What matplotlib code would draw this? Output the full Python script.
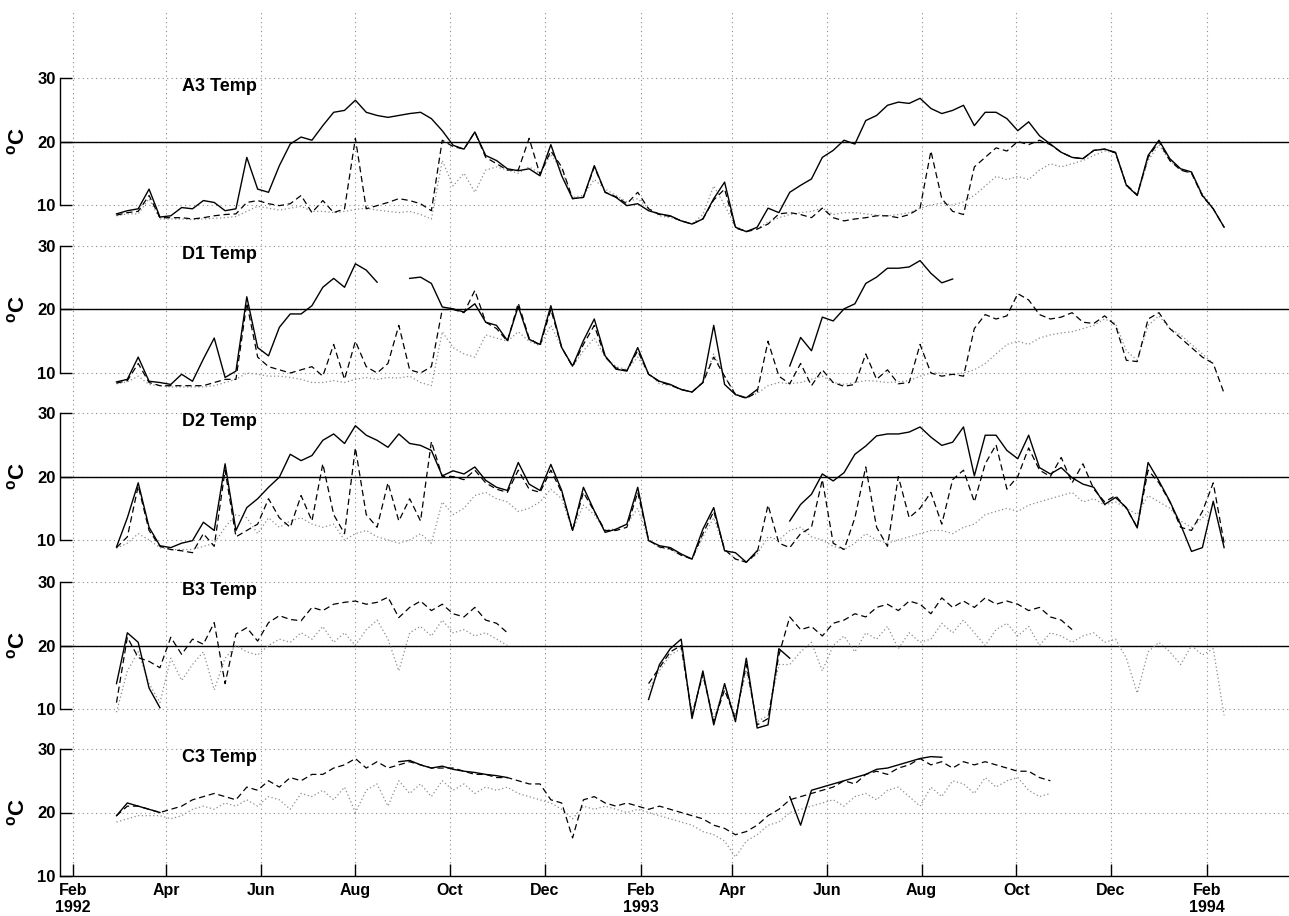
import numpy as np
import pandas as pd
import matplotlib
matplotlib.use("Agg")
import matplotlib.pyplot as plt

plt.rcParams["font.family"] = "Liberation Sans"
plt.rcParams["mathtext.fontset"] = "custom"
plt.rcParams["mathtext.rm"] = "Liberation Sans"
plt.rcParams["mathtext.bf"] = "Liberation Sans:bold"

nan = np.nan

# weekly samples, 29 Feb 1992 .. 12 Feb 1994 (103 values per series)
dates = pd.date_range("1992-02-29", periods=103, freq="7D")

# ── A3 ────────────────────────────────────────────────────────────────
a3_solid = [8.6, 9.1, 9.4, 12.5, 8.1, 8.3, 9.6, 9.4, 10.7, 10.4,
            9.1, 9.4, 17.5, 12.5, 12.0, 16.2, 19.6, 20.7, 20.2, 22.5,
            24.6, 24.9, 26.5, 24.6, 24.1, 23.8, 24.1, 24.4, 24.6, 23.6,
            21.7, 19.4, 18.8, 21.5, 17.8, 17.0, 15.7, 15.4, 15.7, 14.6,
            19.5, 14.6, 11.0, 11.2, 16.2, 12.0, 11.2, 9.9, 10.2, 9.1,
            8.6, 8.3, 7.5, 7.0, 7.8, 11.0, 13.6, 6.5, 5.8, 6.5,
            9.5, 8.8, 12.0, 13.1, 14.1, 17.5, 18.6, 20.2, 19.6, 23.3,
            24.1, 25.7, 26.2, 26.0, 26.8, 25.2, 24.4, 24.9, 25.7, 22.5,
            24.6, 24.6, 23.6, 21.7, 23.1, 20.9, 19.6, 18.3, 17.5, 17.3,
            18.6, 18.8, 18.3, 13.1, 11.5, 17.8, 20.2, 17.3, 15.7, 15.2,
            11.5, 9.4, 6.5]
a3_dash = [8.4, 8.8, 9.0, 11.5, 8.0, 8.0, 8.0, 7.8, 8.0, 8.3,
           8.5, 8.6, 10.4, 10.7, 10.2, 9.9, 10.2, 11.5, 8.8, 10.7,
           8.8, 9.4, 20.5, 9.4, 9.9, 10.4, 11.0, 10.7, 10.2, 9.1,
           20.2, 19.2, 18.8, 21.5, 17.5, 16.5, 15.5, 15.5, 20.5, 14.8,
           18.5, 16.0, 11.0, 11.2, 16.0, 12.0, 11.3, 10.2, 12.0, 9.4,
           8.5, 8.2, 7.5, 7.0, 7.8, 10.8, 12.5, 6.4, 5.8, 6.2,
           7.0, 8.6, 8.8, 8.5, 8.0, 9.5, 8.0, 7.5, 7.8, 8.0,
           8.3, 8.3, 8.0, 8.5, 9.5, 18.5, 11.0, 9.0, 8.5, 16.0,
           17.5, 19.0, 18.5, 20.0, 19.5, 20.2, 19.5, 18.3, 17.5, 17.3,
           18.6, 18.8, 18.2, 13.2, 11.6, 17.5, 20.0, 17.0, 15.5, 15.0,
           11.4, 9.4, 6.5]
a3_dot = [8.3, 8.6, 8.6, 11.0, 7.8, 7.8, 7.8, 7.7, 7.8, 7.9,
          8.0, 8.2, 9.0, 9.8, 9.5, 9.2, 9.5, 9.8, 9.0, 9.0,
          8.8, 9.0, 9.3, 9.5, 9.2, 9.0, 8.8, 9.0, 8.5, 7.8,
          17.0, 13.0, 15.0, 12.0, 15.5, 16.0, 15.5, 15.0, 16.0, 15.0,
          18.0, 15.5, 11.2, 11.5, 14.0, 12.5, 11.5, 10.5, 11.0, 9.5,
          8.3, 8.0, 7.6, 7.0, 8.5, 13.0, 10.0, 6.6, 5.9, 6.3,
          7.3, 8.0, 8.5, 8.8, 9.0, 9.5, 8.5, 8.8, 8.8, 8.6,
          8.4, 8.3, 8.5, 8.8, 9.5, 10.0, 10.3, 10.0, 10.5, 11.5,
          13.0, 14.5, 14.0, 14.5, 14.0, 15.5, 16.5, 16.0, 16.5, 17.0,
          17.8, 18.5, 18.2, 13.0, 11.5, 17.0, 19.5, 17.0, 15.5, 15.0,
          11.8, 9.6, nan]

# ── D1 ────────────────────────────────────────────────────────────────
d1_solid = [8.6, 9.0, 12.5, 8.7, 8.5, 8.2, 9.8, 8.7, 12.2, 15.5,
            9.3, 10.3, 22.0, 14.0, 12.7, 17.2, 19.3, 19.3, 20.6, 23.5,
            24.9, 23.5, 27.2, 26.2, 24.3, nan, nan, 24.9, 25.1, 24.1,
            20.4, 20.1, 19.6, 20.9, 18.0, 17.5, 15.1, 20.5, 15.3, 14.5,
            20.6, 14.0, 11.1, 15.1, 18.5, 12.7, 10.6, 10.3, 14.0, 9.8,
            8.7, 8.2, 7.4, 7.0, 8.5, 17.5, 8.2, 6.6, 6.1, 7.4,
            nan, nan, 11.1, 15.6, 13.5, 18.8, 18.2, 20.1, 20.9, 24.1,
            25.1, 26.5, 26.5, 26.7, 27.7, 25.7, 24.2, 24.8] + [nan] * 25
d1_dash = [8.4, 8.8, 11.5, 8.5, 8.0, 8.0, 8.0, 8.0, 8.0, 8.5,
           9.0, 9.0, 21.0, 12.5, 11.0, 10.5, 10.0, 10.5, 11.0, 9.5,
           14.5, 9.0, 15.0, 11.0, 10.0, 11.5, 17.5, 10.5, 10.0, 11.0,
           20.0, 20.0, 19.5, 23.0, 18.0, 17.0, 15.0, 21.0, 15.5, 14.3,
           20.0, 14.0, 11.0, 14.5, 17.5, 12.5, 10.8, 10.4, 13.5, 9.8,
           8.6, 8.1, 7.4, 7.0, 8.5, 12.5, 9.5, 6.6, 6.0, 7.0,
           15.0, 9.5, 8.3, 11.5, 8.0, 10.5, 8.5, 7.9, 8.2, 13.0,
           9.0, 10.5, 8.3, 8.5, 14.5, 10.0, 9.5, 9.8, 9.5, 17.0,
           19.2, 18.5, 19.0, 22.5, 21.5, 19.2, 18.5, 18.8, 19.5, 18.0,
           17.8, 19.0, 17.5, 12.0, 11.8, 18.5, 19.5, 17.0, 15.5, 14.0,
           12.5, 11.5, 6.8]
d1_dot = [8.3, 8.6, 9.5, 8.2, 8.0, 7.8, 7.8, 7.8, 7.8, 8.0,
          8.5, 9.0, 10.0, 9.8, 9.5, 9.5, 9.3, 9.0, 8.5, 8.5,
          8.8, 8.5, 9.0, 9.3, 9.0, 9.3, 9.2, 9.5, 8.5, 8.0,
          16.5, 14.0, 13.0, 12.5, 16.0, 15.5, 15.0, 16.5, 15.0, 14.3,
          17.5, 14.0, 11.0, 13.5, 15.5, 12.5, 11.0, 10.5, 12.5, 10.0,
          8.3, 8.0, 7.5, 7.0, 8.5, 13.0, 9.5, 6.7, 6.1, 6.8,
          8.0, 8.5, 8.3, 8.5, 9.0, 9.5, 8.5, 8.2, 8.5, 8.8,
          8.7, 8.5, 8.6, 8.8, 9.5, 10.0, 10.0, 9.8, 10.0, 10.5,
          11.5, 13.0, 14.5, 15.0, 14.5, 15.5, 16.0, 16.3, 16.5, 17.0,
          17.5, 18.5, 17.8, 13.5, 12.0, 17.5, 19.0, 17.0, 16.0, 14.5,
          13.0, 11.5, nan]

# ── D2 ────────────────────────────────────────────────────────────────
d2_solid = [8.9, 13.5, 19.0, 12.0, 9.1, 8.8, 9.5, 9.9, 12.8, 11.5,
            22.0, 11.5, 15.1, 16.5, 18.3, 19.9, 23.5, 22.5, 23.3, 25.7,
            26.7, 25.2, 28.0, 26.5, 25.7, 24.6, 26.7, 25.2, 24.9, 24.1,
            20.1, 20.9, 20.4, 21.5, 19.4, 18.3, 17.8, 22.2, 18.8, 17.8,
            21.9, 17.8, 11.5, 18.3, 14.6, 11.2, 11.7, 12.5, 18.3, 9.9,
            9.1, 8.8, 7.8, 7.0, 11.7, 15.1, 8.3, 8.0, 6.5, 8.3,
            nan, nan, 13.0, 15.6, 17.2, 20.4, 19.3, 20.6, 23.5, 24.8,
            26.4, 26.7, 26.7, 27.0, 27.8, 26.2, 24.9, 25.4, 27.8, 20.1,
            26.5, 26.5, 24.1, 22.8, 26.5, 21.4, 20.4, 21.4, 19.8, 18.8,
            18.3, 15.6, 16.7, 15.1, 11.9, 22.2, 19.3, 16.1, 12.4, 8.2,
            8.8, 16.1, 8.8]
d2_dash = [8.8, 10.5, 18.5, 11.5, 9.0, 8.5, 8.3, 8.0, 11.0, 9.0,
           21.0, 10.5, 11.5, 12.5, 16.5, 13.5, 12.0, 17.0, 13.0, 22.0,
           14.0, 11.0, 24.5, 14.0, 12.0, 19.0, 13.0, 16.5, 13.0, 25.5,
           20.0, 20.0, 19.5, 21.0, 19.0, 18.0, 17.5, 21.0, 18.0, 17.5,
           21.0, 17.5, 11.5, 17.5, 14.5, 11.5, 11.5, 12.0, 17.5, 10.0,
           8.9, 8.6, 7.6, 7.0, 11.0, 14.5, 8.5, 7.0, 6.5, 8.0,
           15.5, 9.5, 8.8, 11.0, 12.0, 19.5, 9.5, 8.5, 13.5, 21.5,
           12.0, 9.0, 20.0, 13.5, 15.0, 17.5, 12.5, 19.5, 21.0, 16.0,
           22.0, 25.0, 18.0, 20.0, 24.5, 21.0, 20.0, 23.0, 19.0, 22.0,
           18.0, 16.0, 17.0, 15.0, 12.0, 21.0, 19.0, 16.0, 12.0, 11.5,
           14.5, 19.0, 9.5]
d2_dot = [8.7, 9.5, 11.0, 10.0, 8.8, 8.5, 8.5, 8.5, 9.0, 9.5,
          12.0, 14.0, 13.5, 11.0, 13.5, 12.0, 13.0, 13.5, 12.5, 12.0,
          12.5, 10.0, 11.0, 11.5, 10.5, 10.0, 9.5, 10.0, 11.0, 9.5,
          16.0, 14.0, 15.0, 17.0, 17.5, 16.5, 16.0, 14.5, 15.0, 16.0,
          18.0, 16.5, 11.5, 15.5, 14.0, 11.5, 11.8, 12.5, 15.0, 10.0,
          8.8, 8.5, 7.6, 7.0, 10.5, 13.5, 8.5, 7.0, 6.5, 7.8,
          10.5, 10.0, 11.5, 12.0, 10.5, 10.0, 9.0, 8.5, 9.5, 11.0,
          10.0, 9.5, 10.0, 10.5, 11.0, 11.5, 11.5, 11.0, 12.0, 12.5,
          14.0, 14.5, 15.0, 14.5, 15.5, 16.0, 16.5, 17.0, 17.5, 16.0,
          16.5, 15.5, 16.0, 15.0, 14.0, 17.0, 16.0, 15.0, 13.0, 12.0,
          13.5, 15.0, nan]

# ── B3 ────────────────────────────────────────────────────────────────
b3_solid = ([14.0, 22.0, 20.5, 13.3, 10.2] + [nan] * 44 +
            [11.5, 17.0, 19.5, 21.0, 8.5, 16.0, 7.5, 14.0, 8.0, 18.0,
             7.0, 7.5, 19.5, 18.0] + [nan] * 40)
b3_dash = ([11.0, 21.3, 18.1, 17.5, 16.5, 21.3, 18.6, 21.0, 20.2, 23.6,
            14.0, 21.8, 22.8, 20.7, 23.6, 24.7, 24.1, 23.9, 26.0, 25.5,
            26.5, 26.8, 27.0, 26.5, 26.8, 27.6, 24.4, 26.0, 27.0, 25.5,
            26.5, 25.0, 24.5, 26.0, 24.0, 23.5, 22.0] + [nan] * 12 +
           [14.0, 16.5, 19.0, 20.0, 9.0, 15.5, 8.0, 13.0, 8.5, 17.0,
            7.5, 8.5, 18.5,
            24.5, 22.5, 23.0, 21.5, 23.5, 24.0, 25.0, 24.5, 26.0, 26.5,
            25.5, 27.0, 26.5, 25.0, 27.5, 26.0, 27.0, 26.0, 27.5, 26.5,
            27.0, 26.5, 25.5, 26.0, 24.5, 24.0, 22.5] + [nan] * 14)
b3_dot = ([9.5, 16.0, 19.0, 14.0, 11.0, 18.0, 14.5, 17.0, 19.0, 13.0,
           18.0, 20.0, 19.0, 18.5, 20.0, 21.0, 20.5, 22.0, 21.0, 23.0,
           20.5, 22.0, 20.0, 22.5, 24.0, 21.0, 16.0, 22.0, 23.0, 21.5,
           24.0, 22.0, 22.5, 21.5, 22.0, 21.0, 20.0] + [nan] * 12 +
          [13.0, 16.0, 18.5, 19.5, 9.5, 15.0, 8.5, 13.5, 9.0, 16.0,
           8.0, 9.0, 17.0,
           17.0, 19.0, 20.5, 16.0, 20.0, 21.5, 19.0, 22.0, 21.0, 23.0,
           19.5, 22.0, 20.5, 21.0, 23.5, 22.0, 24.0, 22.0, 20.0, 22.5,
           23.5, 21.5, 23.0, 20.0, 22.0, 21.5, 20.5, 21.5, 22.0, 20.5,
           21.0, 18.0, 12.5, 19.0, 20.5, 19.0, 17.0, 20.0, 18.5, 19.5,
           9.0])

# ── C3 ────────────────────────────────────────────────────────────────
c3_solid = ([19.5, 21.5, 21.0, 20.5, 20.0] + [nan] * 21 +
            [28.0, 28.2, 27.5, 27.0, 27.3, 26.8, 26.5, 26.3, 26.0, 25.8,
             25.5] + [nan] * 25 +
            [22.5, 18.0, 23.5, 24.0, 24.5, 25.0, 25.5, 26.0, 26.8, 27.0,
             27.5, 28.0, 28.5, 28.8, 28.7] + [nan] * 26)
c3_dash = [19.5, 21.0, 21.0, 20.5, 20.0, 20.5, 21.0, 22.0, 22.5, 23.0,
           22.5, 22.0, 24.0, 23.5, 25.0, 24.0, 25.5, 25.0, 26.0, 26.0,
           27.0, 27.5, 28.5, 27.0, 28.0, 27.0, 27.5, 28.0, 27.5, 27.0,
           27.0, 27.0, 26.5, 26.0, 26.0, 25.5, 25.5, 25.0, 24.5, 24.5,
           22.0, 21.5, 16.0, 22.0, 22.5, 21.5, 21.0, 21.5, 21.0, 20.5,
           21.0, 20.5, 20.0, 19.5, 19.0, 18.0, 17.5, 16.5, 17.0, 18.0,
           19.5, 20.5, 22.0, 22.5, 23.0, 23.5, 24.0, 25.0, 24.5, 26.0,
           26.5, 26.0, 27.0, 27.5, 28.5, 27.5, 28.0, 27.0, 28.0, 27.5,
           28.0, 27.5, 27.0, 26.5, 26.5, 25.5, 25.0] + [nan] * 16
c3_dot = [18.5, 19.0, 19.5, 19.5, 19.5, 19.0, 19.5, 20.5, 21.0, 20.5,
          21.5, 21.0, 22.0, 21.0, 22.5, 22.0, 20.5, 23.0, 22.5, 23.5,
          22.0, 24.0, 20.0, 23.5, 24.5, 21.0, 25.0, 23.0, 24.5, 22.5,
          25.0, 23.5, 24.5, 23.0, 24.0, 23.5, 24.0, 23.0, 22.5, 22.0,
          21.5, 20.5, 19.0, 21.0, 20.5, 21.0, 20.5, 20.0, 20.5, 20.0,
          19.5, 19.0, 18.5, 18.0, 17.0, 16.5, 15.5, 13.0, 15.5, 16.5,
          18.0, 18.5, 20.0, 20.5, 21.0, 21.5, 22.0, 21.0, 22.5, 23.0,
          22.0, 23.5, 24.0, 22.5, 21.0, 24.0, 22.5, 25.0, 24.5, 23.0,
          25.5, 24.0, 25.0, 25.5, 23.5, 22.5, 23.0] + [nan] * 16

panel_names = ["A3 Temp", "D1 Temp", "D2 Temp", "B3 Temp", "C3 Temp"]
panel_series = [
    (a3_solid, a3_dash, a3_dot),
    (d1_solid, d1_dash, d1_dot),
    (d2_solid, d2_dash, d2_dot),
    (b3_solid, b3_dash, b3_dot),
    (c3_solid, c3_dash, c3_dot),
]

month_ticks = pd.to_datetime([
    "1992-02-01", "1992-04-01", "1992-06-01", "1992-08-01", "1992-10-01",
    "1992-12-01", "1993-02-01", "1993-04-01", "1993-06-01", "1993-08-01",
    "1993-10-01", "1993-12-01", "1994-02-01"])
month_labels = ["Feb\n1992", "Apr", "Jun", "Aug", "Oct", "Dec",
                "Feb\n1993", "Apr", "Jun", "Aug", "Oct", "Dec", "Feb\n1994"]

# ── Layout (pixel based) ──────────────────────────────────────────────
W, H = 1289, 916
X_LEFT = 60                                  # y-axis spine
Y_TOP, Y_BOTTOM = 10, 876                    # extent of the vertical grid
PANEL_30 = [78, 246, 413, 582, 749]          # pixel row of the 30 degC level
PX_PER_DEG = 6.35
xlim = (pd.Timestamp("1992-01-23 14:00"), pd.Timestamp("1994-03-25 20:00"))

GRID_KW = dict(color="0.55", linewidth=0.8, linestyle=(0, (1, 3)))


def frac_box(top_px, bottom_px):
    return [X_LEFT / W, (H - bottom_px) / H, (W - X_LEFT) / W,
            (bottom_px - top_px) / H]


fig = plt.figure(figsize=(W / 100, H / 100), dpi=100)

# shared time axis: month grid, bottom spine and date labels
bg = fig.add_axes(frac_box(Y_TOP, Y_BOTTOM))
bg.patch.set_visible(False)
bg.set_xlim(*xlim)
bg.set_ylim(0, 1)
bg.set_yticks([])
for side in ("left", "top", "right"):
    bg.spines[side].set_visible(False)
bg.spines["bottom"].set_linewidth(1.0)
bg.set_xticks(month_ticks)
bg.set_xticklabels(month_labels, fontsize=11.5, fontweight="bold")
bg.tick_params(axis="x", direction="in", length=8.5, width=1.0, pad=5)
bg.grid(axis="x", **GRID_KW)

for i, (name, (solid, dash, dot)) in enumerate(zip(panel_names, panel_series)):
    last = i == len(panel_names) - 1
    lo, hi = (10, 31.5) if last else (3, 31.5)
    y30 = PANEL_30[i]
    ax = fig.add_axes(frac_box(y30 - (hi - 30) * PX_PER_DEG,
                               y30 + (30 - lo) * PX_PER_DEG))
    ax.patch.set_visible(False)
    ax.set_xlim(*xlim)
    ax.set_ylim(lo, hi)
    ax.set_xticks([])
    for side in ("top", "right", "bottom"):
        ax.spines[side].set_visible(False)
    ax.spines["left"].set_bounds(10, 30)
    ax.spines["left"].set_linewidth(1.0)
    ax.set_yticks([10, 20, 30])
    ax.set_yticklabels(["10", "20", "30"], fontsize=12, fontweight="bold")
    ax.tick_params(axis="y", direction="in", length=8.5, width=1.0, pad=3)
    ax.yaxis.grid(True, **GRID_KW)
    if not last:
        ax.axhline(20, color="k", linewidth=1.0)

    ax.plot(dates, dot, color="0.55", linewidth=0.9, dashes=(1, 2))
    ax.plot(dates, dash, color="k", linewidth=0.9, dashes=(5, 3))
    ax.plot(dates, solid, color="k", linewidth=1.0)

    ax.text(pd.Timestamp("1992-04-11"), 28.6, name, fontsize=13,
            fontweight="bold", va="center", ha="left")

    y20 = y30 + 10 * PX_PER_DEG
    fig.text(18 / W, 1 - y20 / H, r"$^{\mathbf{o}}\mathbf{C}$", rotation=90,
             fontsize=16, ha="center", va="center")

fig.savefig("out.png", dpi=100)
